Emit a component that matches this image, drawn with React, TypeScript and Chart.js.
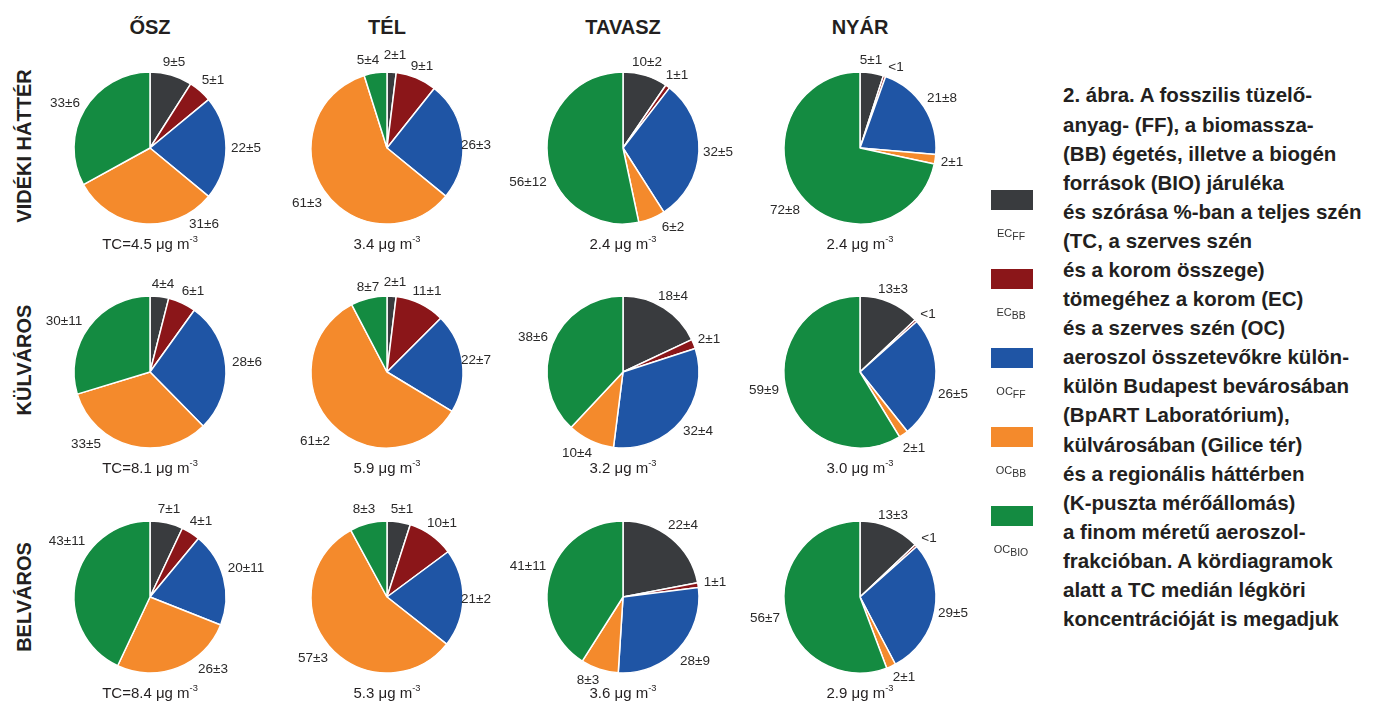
import { useEffect, useRef } from "react";
import { Chart, registerables } from "chart.js";

Chart.register(...registerables);

// Carbon components, in clockwise order starting from 12 o'clock
const COMPONENTS = ["EC_FF", "EC_BB", "OC_FF", "OC_BB", "OC_BIO"];
const COMPONENT_MAIN = ["EC", "EC", "OC", "OC", "OC"];
const COMPONENT_SUB = ["FF", "BB", "FF", "BB", "BIO"];
const COLORS = ["#393b3e", "#8b1619", "#1f55a5", "#f48a2c", "#148b41"];

const SEASONS = ["ŐSZ", "TÉL", "TAVASZ", "NYÁR"];
const SITES = ["VIDÉKI HÁTTÉR", "KÜLVÁROS", "BELVÁROS"];

// Share of TC (%) per component; 0.5 stands for "<1"
const videkiOsz = [9, 5, 22, 31, 33];
const videkiTel = [2, 9, 26, 61, 5];
const videkiTavasz = [10, 1, 32, 6, 56];
const videkiNyar = [5, 0.5, 21, 2, 72];

const kulvarosOsz = [4, 6, 28, 33, 30];
const kulvarosTel = [2, 11, 22, 61, 8];
const kulvarosTavasz = [18, 2, 32, 10, 38];
const kulvarosNyar = [13, 0.5, 26, 2, 59];

const belvarosOsz = [7, 4, 20, 26, 43];
const belvarosTel = [5, 10, 21, 57, 8];
const belvarosTavasz = [22, 1, 28, 8, 41];
const belvarosNyar = [13, 0.5, 29, 2, 56];

// Standard deviations (%); null where only an upper bound is given
const videkiOszErr = [5, 1, 5, 6, 6];
const videkiTelErr = [1, 1, 3, 3, 4];
const videkiTavaszErr = [2, 1, 5, 2, 12];
const videkiNyarErr = [1, null, 8, 1, 8];

const kulvarosOszErr = [4, 1, 6, 5, 11];
const kulvarosTelErr = [1, 1, 7, 2, 7];
const kulvarosTavaszErr = [4, 1, 4, 4, 6];
const kulvarosNyarErr = [3, null, 5, 1, 9];

const belvarosOszErr = [1, 1, 11, 3, 11];
const belvarosTelErr = [1, 1, 2, 3, 3];
const belvarosTavaszErr = [4, 1, 9, 3, 11];
const belvarosNyarErr = [3, null, 5, 1, 7];

// Median TC concentration (µg m-3) per season
const tcVideki = [4.5, 3.4, 2.4, 2.4];
const tcKulvaros = [8.1, 5.9, 3.2, 3.0];
const tcBelvaros = [8.4, 5.3, 3.6, 2.9];

const SHARES = [
  [videkiOsz, videkiTel, videkiTavasz, videkiNyar],
  [kulvarosOsz, kulvarosTel, kulvarosTavasz, kulvarosNyar],
  [belvarosOsz, belvarosTel, belvarosTavasz, belvarosNyar],
];
const ERRORS = [
  [videkiOszErr, videkiTelErr, videkiTavaszErr, videkiNyarErr],
  [kulvarosOszErr, kulvarosTelErr, kulvarosTavaszErr, kulvarosNyarErr],
  [belvarosOszErr, belvarosTelErr, belvarosTavaszErr, belvarosNyarErr],
];
const TC = [tcVideki, tcKulvaros, tcBelvaros];

const CAPTION = [
  "2. ábra. A fosszilis tüzelő-",
  "anyag- (FF), a biomassza-",
  "(BB) égetés, illetve a biogén",
  "források (BIO) járuléka",
  "és szórása %-ban a teljes szén",
  "(TC, a szerves szén",
  "és a korom összege)",
  "tömegéhez a korom (EC)",
  "és a szerves szén (OC)",
  "aeroszol összetevőkre külön-",
  "külön Budapest bevárosában",
  "(BpART Laboratórium),",
  "külvárosában (Gilice tér)",
  "és a regionális háttérben",
  "(K-puszta mérőállomás)",
  "a finom méretű aeroszol-",
  "frakcióban. A kördiagramok",
  "alatt a TC medián légköri",
  "koncentrációját is megadjuk",
];

// ---- layout ----
const FONT = "'Liberation Sans', Arial, Helvetica, sans-serif";
const INK = "#231f20";
const COL_X = [150, 387, 623, 860];
const ROW_Y = [148, 372, 597];
const SITE_LABEL_Y = [146, 360, 597];
const RADIUS = 76;
const CANVAS_W = 240;
const CANVAS_H = 216;

// Value-label offsets from the pie centre, in units of the radius
const LABEL_OFFSETS: number[][][][] = [
  [
    [[24, -86], [63, -68], [96, 0], [54, 76], [-85, -45]],
    [[8, -93], [35, -82], [89, -3], [-80, 55], [-19, -88]],
    [[24, -86], [54, -73], [95, 4], [50, 79], [-95, 34]],
    [[11, -88], [36, -81], [82, -50], [92, 14], [-75, 62]],
  ],
  [
    [[13, -88], [43, -81], [97, -10], [-64, 72], [-86, -51]],
    [[8, -90], [40, -81], [89, -12], [-72, 69], [-19, -85]],
    [[50, -76], [86, -33], [75, 59], [-46, 81], [-90, -35]],
    [[33, -83], [68, -58], [93, 22], [54, 76], [-96, 18]],
  ],
  [
    [[19, -88], [51, -76], [96, -29], [63, 72], [-83, -56]],
    [[15, -88], [55, -74], [89, 2], [-74, 61], [-23, -88]],
    [[60, -72], [92, -15], [72, 64], [-35, 83], [-95, -31]],
    [[33, -82], [69, -59], [93, 16], [44, 80], [-95, 21]],
  ],
].map((row) => row.map((pie) => pie.map(([dx, dy]) => [dx / 76, dy / 76])));

function labelText(v: number, e: number | null) {
  return v < 1 ? "<1" : `${v}±${e}`;
}

function Pie({ row, col }: { row: number; col: number }) {
  const ref = useRef<HTMLCanvasElement>(null);
  useEffect(() => {
    const values = SHARES[row][col];
    const errs = ERRORS[row][col];
    const offsets = LABEL_OFFSETS[row][col];
    const valueLabels = {
      id: "valueLabels",
      afterDatasetsDraw(chart: any) {
        const meta = chart.getDatasetMeta(0);
        const ctx = chart.ctx;
        ctx.save();
        ctx.font = `13.5px ${FONT}`;
        ctx.fillStyle = "#2b2a2a";
        ctx.textAlign = "center";
        ctx.textBaseline = "middle";
        meta.data.forEach((arc: any, i: number) => {
          const r = arc.outerRadius;
          ctx.fillText(
            labelText(values[i], errs[i]),
            arc.x + offsets[i][0] * r,
            arc.y + offsets[i][1] * r
          );
        });
        ctx.restore();
      },
    };
    const chart = new Chart(ref.current!, {
      type: "pie",
      data: {
        labels: COMPONENTS,
        datasets: [
          {
            data: values,
            backgroundColor: COLORS,
            borderColor: "#ffffff",
            borderWidth: 1.5,
            radius: RADIUS,
          } as any,
        ],
      },
      options: {
        animation: false,
        responsive: false,
        events: [],
        layout: { padding: 0 },
        plugins: { legend: { display: false }, tooltip: { enabled: false } },
      },
      plugins: [valueLabels],
    });
    return () => chart.destroy();
  }, [row, col]);
  return (
    <canvas
      ref={ref}
      width={CANVAS_W}
      height={CANVAS_H}
      style={{
        position: "absolute",
        left: COL_X[col] - CANVAS_W / 2,
        top: ROW_Y[row] - CANVAS_H / 2,
        width: CANVAS_W,
        height: CANVAS_H,
      }}
    />
  );
}

const centered = (x: number, y: number): React.CSSProperties => ({
  position: "absolute",
  left: x,
  top: y,
  transform: "translate(-50%, -50%)",
  whiteSpace: "nowrap",
});

export default function App() {
  return (
    <div
      style={{
        position: "absolute",
        left: 0,
        top: 0,
        width: 1373,
        height: 710,
        background: "#ffffff",
        fontFamily: FONT,
        color: INK,
        overflow: "hidden",
      }}
    >
      {SEASONS.map((s, c) => (
        <div key={s} style={{ ...centered(COL_X[c], 27), fontSize: 20, fontWeight: 700 }}>
          {s}
        </div>
      ))}
      {SITES.map((s, r) => (
        <div
          key={s}
          style={{
            ...centered(24, SITE_LABEL_Y[r]),
            transform: "translate(-50%, -50%) rotate(-90deg)",
            fontSize: 20,
            fontWeight: 700,
          }}
        >
          {s}
        </div>
      ))}
      {SHARES.map((rowData, r) =>
        rowData.map((_, c) => <Pie key={`${r}-${c}`} row={r} col={c} />)
      )}
      {TC.map((rowTc, r) =>
        rowTc.map((v, c) => (
          <div
            key={`tc-${r}-${c}`}
            style={{ ...centered(COL_X[c], ROW_Y[r] + 96), fontSize: 15, lineHeight: "18px" }}
          >
            {c === 0 ? "TC=" : ""}
            {v.toFixed(1)} μg m
            <sup style={{ fontSize: "0.62em", position: "relative", top: "-0.1em", verticalAlign: "super", lineHeight: 0 }}>
              -3
            </sup>
          </div>
        ))
      )}
      {COMPONENTS.map((k, i) => (
        <div key={k}>
          <div
            style={{
              position: "absolute",
              left: 991,
              top: 190 + i * 79,
              width: 42,
              height: 20,
              background: COLORS[i],
            }}
          />
          <div style={{ ...centered(1011, 233 + i * 79), fontSize: 11, color: "#333" }}>
            {COMPONENT_MAIN[i]}
            <sub style={{ fontSize: "0.95em", verticalAlign: "-0.3em", lineHeight: 0 }}>{COMPONENT_SUB[i]}</sub>
          </div>
        </div>
      ))}
      <div
        style={{
          position: "absolute",
          left: 1063,
          top: 95 - 14.55,
          fontSize: 20.5,
          fontWeight: 700,
          lineHeight: "29.1px",
          whiteSpace: "nowrap",
          color: INK,
        }}
      >
        {CAPTION.map((line) => (
          <div key={line}>{line}</div>
        ))}
      </div>
    </div>
  );
}
